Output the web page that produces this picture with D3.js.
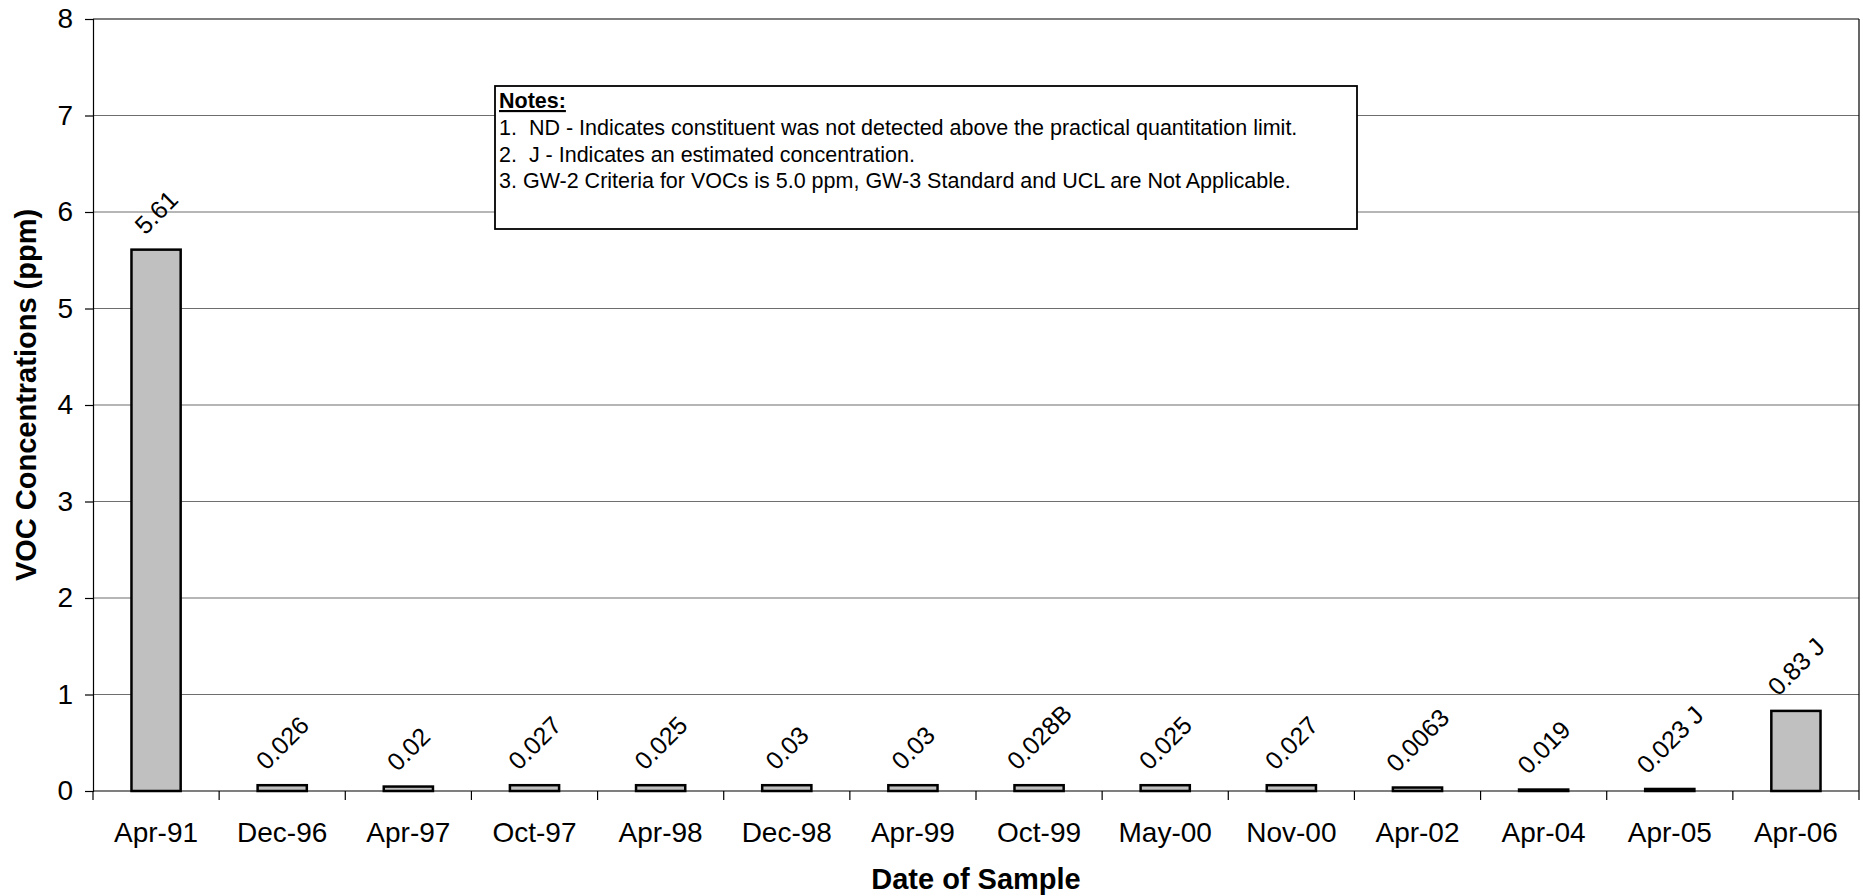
<!DOCTYPE html>
<html>
<head>
<meta charset="utf-8">
<script src="https://cdn.jsdelivr.net/npm/d3@7"></script>
<style>
  html, body { margin: 0; padding: 0; background: #fff; }
  svg { display: block; font-family: "Liberation Sans", Arial, sans-serif; }
</style>
</head>
<body>
<svg id="chart" width="1863" height="896"></svg>
<script>
// ---- data ----
const categories = ["Apr-91","Dec-96","Apr-97","Oct-97","Apr-98","Dec-98","Apr-99","Oct-99","May-00","Nov-00","Apr-02","Apr-04","Apr-05","Apr-06"];
const values = [5.61, 0.06, 0.046, 0.06, 0.06, 0.06, 0.06, 0.06, 0.06, 0.06, 0.036, 0.015, 0.021, 0.83];
const valueLabels = ["5.61","0.026","0.02","0.027","0.025","0.03","0.03","0.028B","0.025","0.027","0.0063","0.019","0.023 J","0.83 J"];
const yTicks = [0,1,2,3,4,5,6,7,8];
const yTitle = "VOC Concentrations (ppm)";
const xTitle = "Date of Sample";
const notesTitle = "Notes:";
const notesLines = [
  "1.  ND - Indicates constituent was not detected above the practical quantitation limit.",
  "2.  J - Indicates an estimated concentration.",
  "3. GW-2 Criteria for VOCs is 5.0 ppm, GW-3 Standard and UCL are Not Applicable."
];

// ---- layout ----
const plot = { left: 93, right: 1859, top: 19, bottom: 791 };
const svg = d3.select("#chart");

const x = d3.scaleBand()
  .domain(categories)
  .range([plot.left, plot.right])
  .paddingInner(0.61)
  .paddingOuter(0.305);

const y = d3.scaleLinear().domain([0, 8]).range([plot.bottom, plot.top]);

// gridlines
svg.append("g")
  .selectAll("line")
  .data(yTicks.filter(d => d > 0 && d < 8))
  .join("line")
  .attr("x1", plot.left).attr("x2", plot.right)
  .attr("y1", d => y(d)).attr("y2", d => y(d))
  .attr("stroke", "#6e6e6e").attr("stroke-width", 1.2);

// plot border (top, right)
svg.append("line")
  .attr("x1", plot.left).attr("x2", plot.right)
  .attr("y1", y(8)).attr("y2", y(8))
  .attr("stroke", "#000").attr("stroke-width", 1.2);
svg.append("line")
  .attr("x1", plot.right).attr("x2", plot.right)
  .attr("y1", plot.top).attr("y2", plot.bottom)
  .attr("stroke", "#000").attr("stroke-width", 1.2);

// y axis
const yAxis = d3.axisLeft(y).tickValues(yTicks).tickSize(8).tickPadding(12).tickFormat(d3.format("d"));
const gy = svg.append("g").attr("transform", `translate(${plot.left},0)`).call(yAxis);
gy.select(".domain").attr("stroke", "#000").attr("stroke-width", 1.2);
gy.selectAll(".tick line").attr("stroke", "#000").attr("stroke-width", 1.2);
gy.selectAll(".tick text")
  .attr("font-family", "Liberation Sans, Arial, sans-serif")
  .attr("font-size", 28).attr("fill", "#000");

// x axis (ticks between categories)
const gx = svg.append("g").attr("transform", `translate(0,${plot.bottom})`);
gx.append("line")
  .attr("x1", plot.left).attr("x2", plot.right)
  .attr("stroke", "#000").attr("stroke-width", 1.2);
const step = x.step();
const boundaries = d3.range(categories.length + 1).map(i => plot.left + i * step);
gx.selectAll("line.tk")
  .data(boundaries)
  .join("line").attr("class", "tk")
  .attr("x1", d => d).attr("x2", d => d)
  .attr("y1", 0).attr("y2", 9)
  .attr("stroke", "#000").attr("stroke-width", 1.2);
gx.selectAll("text.cat")
  .data(categories)
  .join("text").attr("class", "cat")
  .attr("x", d => x(d) + x.bandwidth() / 2)
  .attr("y", 51)
  .attr("text-anchor", "middle")
  .attr("font-size", 28)
  .attr("fill", "#000")
  .text(d => d);

// bars
svg.append("g")
  .selectAll("rect")
  .data(categories.map((c, i) => ({ c, v: values[i], label: valueLabels[i] })))
  .join("rect")
  .attr("x", d => x(d.c))
  .attr("width", x.bandwidth())
  .attr("y", d => y(d.v))
  .attr("height", d => y(0) - y(d.v))
  .attr("fill", "#c0c0c0")
  .attr("stroke", "#000")
  .attr("stroke-width", 2.5);

// value labels (rotated -45)
const lblG = svg.append("g");
const lblSize = 25;
categories.forEach((c, i) => {
  const t = lblG.append("text")
    .attr("font-size", lblSize)
    .attr("fill", "#000")
    .attr("text-anchor", "middle")
    .attr("dominant-baseline", "central")
    .text(valueLabels[i]);
  const len = t.node().getComputedTextLength();
  const h = lblSize * 0.72;
  const half = (len + h) / (2 * Math.SQRT2);
  const cx = x(c) + x.bandwidth() / 2;
  const cy = y(values[i]) - 14 - half;
  t.attr("transform", `translate(${cx},${cy}) rotate(-45)`);
});

// axis titles
svg.append("text")
  .attr("transform", `translate(26,${(plot.top + plot.bottom) / 2 - 10}) rotate(-90)`)
  .attr("text-anchor", "middle")
  .attr("dominant-baseline", "central")
  .attr("font-size", 29)
  .attr("font-weight", "bold")
  .text(yTitle);

svg.append("text")
  .attr("x", (plot.left + plot.right) / 2)
  .attr("y", 889)
  .attr("text-anchor", "middle")
  .attr("font-size", 29)
  .attr("font-weight", "bold")
  .text(xTitle);

// notes box
const nb = { x: 495, y: 86, w: 862, h: 143 };
const ng = svg.append("g");
ng.append("rect")
  .attr("x", nb.x).attr("y", nb.y).attr("width", nb.w).attr("height", nb.h)
  .attr("fill", "#fff").attr("stroke", "#000").attr("stroke-width", 1.8);
ng.append("text")
  .attr("x", nb.x + 4).attr("y", nb.y + 22)
  .attr("font-size", 21.5).attr("font-weight", "bold")
  .attr("text-decoration", "underline")
  .text(notesTitle);
ng.selectAll("text.nl")
  .data(notesLines)
  .join("text").attr("class", "nl")
  .attr("x", nb.x + 4)
  .attr("y", (d, i) => nb.y + 49 + i * 26.5)
  .attr("font-size", 21.5)
  .style("white-space", "pre")
  .text(d => d);
</script>
</body>
</html>
